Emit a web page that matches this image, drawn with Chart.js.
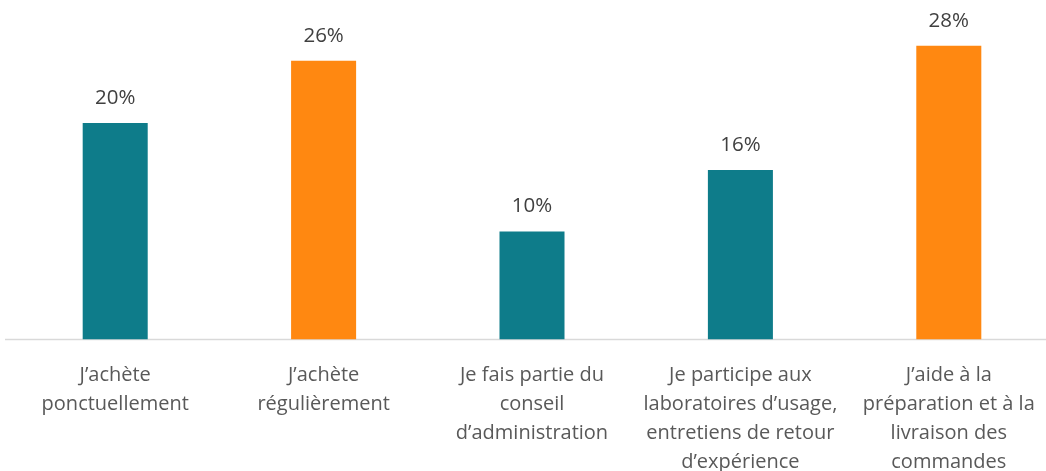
<!DOCTYPE html>
<html lang="fr">
<head>
<meta charset="utf-8">
<script src="https://cdn.jsdelivr.net/npm/chart.js@4/dist/chart.umd.min.js"></script>
<style>
  html, body { margin: 0; padding: 0; background: #fff; overflow: hidden; }
  #wrap { width: 1062px; height: 471px; position: relative; }
</style>
</head>
<body>
<div id="wrap"><canvas id="participationChart"></canvas></div>
<script>
const categories = [
    ['J’achète', 'ponctuellement'],
    ['J’achète', 'régulièrement'],
    ['Je fais partie du', 'conseil', 'd’administration'],
    ['Je participe aux', 'laboratoires d’usage,', 'entretiens de retour', 'd’expérience'],
    ['J’aide à la', 'préparation et à la', 'livraison des', 'commandes']
];
const values = [20.05, 25.8, 10, 15.7, 27.2];
const valueLabels = ['20%', '26%', '10%', '16%', '28%'];
const barColors = ['#0e7c8a', '#ff8811', '#0e7c8a', '#0e7c8a', '#ff8811'];

const FONT = "'Open Sans', 'Liberation Sans', sans-serif";

// etiquettes au-dessus des barres
const valueLabelPlugin = {
    id: 'valueLabels',
    afterDatasetsDraw(chart) {
        const { ctx } = chart;
        const meta = chart.getDatasetMeta(0);
        ctx.save();
        ctx.font = '20.5px ' + FONT;
        ctx.fillStyle = '#404040';
        ctx.textAlign = 'center';
        ctx.textBaseline = 'middle';
        meta.data.forEach((bar, i) => {
            ctx.fillText(valueLabels[i], bar.x, bar.y - 25);
        });
        ctx.restore();
    }
};

// ligne de l'axe horizontal
const baselinePlugin = {
    id: 'baseline',
    beforeDatasetsDraw(chart) {
        const { ctx } = chart;
        const y = chart.scales.y.getPixelForValue(0);
        ctx.save();
        ctx.strokeStyle = '#d9d9d9';
        ctx.lineWidth = 1.5;
        ctx.beginPath();
        ctx.moveTo(5, y);
        ctx.lineTo(chart.width, y);
        ctx.stroke();
        ctx.restore();
    }
};

new Chart(document.getElementById('participationChart'), {
    type: 'bar',
    data: {
        labels: categories,
        datasets: [{
            data: values,
            backgroundColor: barColors,
            borderWidth: 0,
            barPercentage: 1,
            categoryPercentage: 0.312
        }]
    },
    options: {
        responsive: true,
        maintainAspectRatio: false,
        animation: false,
        layout: { padding: { left: 11, right: 9, top: 15.5, bottom: 0 } },
        plugins: {
            legend: { display: false },
            tooltip: { enabled: false }
        },
        scales: {
            x: {
                grid: { display: false },
                border: { display: false },
                ticks: {
                    color: '#595959',
                    font: { family: FONT, size: 20, lineHeight: 1.45 },
                    padding: 13,
                    maxRotation: 0,
                    autoSkip: false
                },
                afterFit(scale) { scale.height = 131.5; }
            },
            y: {
                display: false,
                min: 0,
                max: 30
            }
        }
    },
    plugins: [valueLabelPlugin, baselinePlugin]
});
</script>
</body>
</html>
